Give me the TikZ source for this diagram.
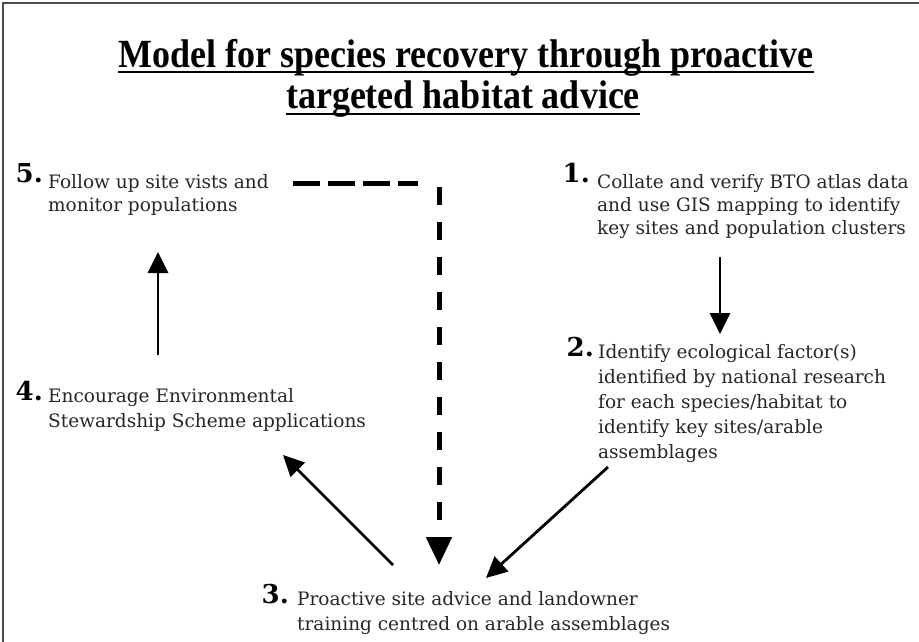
\documentclass[tikz,border=0pt]{standalone}
\usepackage{fontspec}
\setmainfont{DejaVu Serif}
\newfontfamily\titlefont[FakeStretch=0.9]{Liberation Serif}
\usetikzlibrary{arrows.meta}
\begin{document}
\begin{tikzpicture}[x=1pt,y=-1pt,
  txt/.style={anchor=north west, align=left, inner sep=0pt, font=\fontsize{18.5}{23}\selectfont, text=black!85},
  txtw/.style={txt, font=\fontsize{18.5}{25}\selectfont},
  num/.style={anchor=base east, inner sep=0pt, font=\fontsize{26}{26}\selectfont\bfseries},
  ttl/.style={anchor=base, inner sep=0pt, font=\titlefont\fontsize{40}{40}\selectfont\bfseries},
  uline/.style={line width=1.8pt},
  arr/.style={line width=2.8pt, -{Triangle[length=21pt,width=20pt]}},
  dasharr/.style={line width=5pt, dash pattern=on 18pt off 17pt, -{Triangle[length=28pt,width=25pt]}},
  dashh/.style={line width=5pt, dash pattern=on 27pt off 8pt},
  frame/.style={line width=1.2pt, black!70}
]
\useasboundingbox (0,0) rectangle (919,642);
\draw[frame] (3,642) -- (3,3) -- (919,3);

% title
\node[ttl] (t1) at (466,67) {Model for species recovery through proactive};
\node[ttl] (t2) at (463,109) {targeted habitat advice};
\draw[uline] ([yshift=-5pt]t1.base west) -- ([yshift=-5pt]t1.base east);
\draw[uline] ([yshift=-5pt]t2.base west) -- ([yshift=-5pt]t2.base east);

% steps
\node[txt] (n5) at (48,174) {Follow up site vists and\\monitor populations};
\node[num] (k5) at ([xshift=-5pt,yshift=-8pt]n5.north west) {5.};

\node[txt] (n1) at (597,174) {Collate and verify BTO atlas data\\and use GIS mapping to identify\\key sites and population clusters};
\node[num] (k1) at ([xshift=-7pt,yshift=-8pt]n1.north west) {1.};

\node[txtw] (n2) at (598,344) {Identify ecological factor(s)\\identified by national research\\for each species/habitat to\\identify key sites/arable\\assemblages};
\node[num] (k2) at ([xshift=-4pt,yshift=-12pt]n2.north west) {2.};

\node[txtw] (n4) at (48,388) {Encourage Environmental\\Stewardship Scheme applications};
\node[num] (k4) at ([xshift=-5pt,yshift=-12pt]n4.north west) {4.};

\node[txtw] (n3) at (297,591) {Proactive site advice and landowner\\training centred on arable assemblages};
\node[num] (k3) at ([xshift=-8pt,yshift=-12pt]n3.north west) {3.};

% connector ends
\coordinate (a1s) at (720,257);
\coordinate (a1e) at (720,334);
\coordinate (a2s) at (608,467);
\coordinate (a2e) at (486,578);
\coordinate (a3s) at (393,565);
\coordinate (a3e) at (283,455);
\coordinate (a4s) at (158,355);
\coordinate (a4e) at (158,252);
\coordinate (d5s) at (293,183);
\coordinate (dc) at (418,183);
\coordinate (dcv) at (439,187);
\coordinate (d3e) at (439,565);

\draw[arr] (a1s) -- (a1e);
\draw[arr] (a2s) -- (a2e);
\draw[arr] (a3s) -- (a3e);
\draw[arr] (a4s) -- (a4e);
\draw[dashh] (d5s) -- (dc);
\draw[dasharr] (dcv) -- (d3e);
\end{tikzpicture}
\end{document}
